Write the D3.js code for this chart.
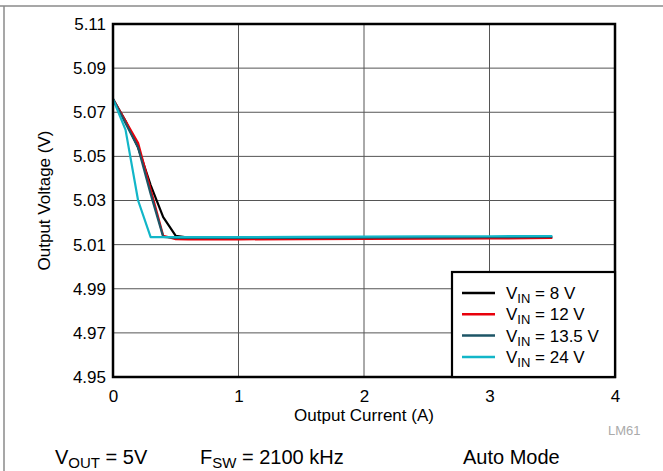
<!DOCTYPE html>
<html><head><meta charset="utf-8">
<script src="https://cdn.jsdelivr.net/npm/d3@7"></script>
<style>body{margin:0;background:#fff}svg{display:block;font-family:"Liberation Sans",Arial,sans-serif}</style>
</head><body><svg id="c" width="663" height="471"></svg>
<script>
const current = [0, 0.1, 0.2, 0.3, 0.4, 0.5, 0.6, 0.8, 1.0, 1.5, 2.0, 2.5, 3.0, 3.5];
const vin8   = [5.076, 5.066, 5.054, 5.037, 5.0225, 5.014, 5.0132, 5.0128, 5.0128, 5.0127, 5.013, 5.013, 5.0132, 5.0133];
const vin12  = [5.076, 5.066, 5.056, 5.035, 5.014, 5.0125, 5.0124, 5.0124, 5.0124, 5.0125, 5.0126, 5.0127, 5.0128, 5.013];
const vin135 = [5.076, 5.065, 5.054, 5.033, 5.0135, 5.013, 5.013, 5.013, 5.013, 5.013, 5.0132, 5.0133, 5.0134, 5.0135];
const vin24  = [5.076, 5.062, 5.030, 5.0134, 5.0134, 5.0134, 5.0134, 5.0134, 5.0134, 5.0135, 5.0136, 5.0137, 5.0138, 5.0139];
const seriesNames = ["8 V", "12 V", "13.5 V", "24 V"];
const seriesColors = ["#000000", "#e8000b", "#1d5566", "#12b6c8"];
const xTicks = [0, 1, 2, 3, 4];
const yTicks = [4.95, 4.97, 4.99, 5.01, 5.03, 5.05, 5.07, 5.09, 5.11];

const svg = d3.select("#c");
const L = 113, R = 615, T = 24, B = 377;
const x = d3.scaleLinear().domain([0, 4]).range([L, R]);
const y = d3.scaleLinear().domain([4.95, 5.11]).range([B, T]);

// frame lines
svg.append("line").attr("x1", 0).attr("x2", 663).attr("y1", 6).attr("y2", 6).attr("stroke", "#8a8a8a").attr("stroke-width", 1.5);
svg.append("line").attr("x1", 4).attr("x2", 4).attr("y1", 6).attr("y2", 471).attr("stroke", "#8a8a8a").attr("stroke-width", 1.5);

// grid
svg.append("g").selectAll("line").data(xTicks.slice(1, -1)).join("line")
  .attr("x1", d => x(d)).attr("x2", d => x(d)).attr("y1", T).attr("y2", B)
  .attr("stroke", "#555").attr("stroke-width", 1);
svg.append("g").selectAll("line").data(yTicks.slice(1, -1)).join("line")
  .attr("x1", L).attr("x2", R).attr("y1", d => y(d)).attr("y2", d => y(d))
  .attr("stroke", "#555").attr("stroke-width", 1);

// axes labels via d3 axes (no lines)
const xAxis = svg.append("g").attr("transform", `translate(0,${B})`)
  .call(d3.axisBottom(x).tickValues(xTicks).tickSize(0).tickPadding(13).tickFormat(d3.format("d")));
xAxis.select(".domain").remove();
xAxis.selectAll("text").attr("font-size", 17).attr("font-family", "Liberation Sans, Arial, sans-serif").attr("fill", "#000");
const yAxis = svg.append("g").attr("transform", `translate(${L},0)`)
  .call(d3.axisLeft(y).tickValues(yTicks).tickSize(0).tickPadding(7).tickFormat(d3.format(".2f")));
yAxis.select(".domain").remove();
yAxis.selectAll("text").attr("font-size", 17).attr("font-family", "Liberation Sans, Arial, sans-serif").attr("fill", "#000");

svg.append("text").attr("x", x(2)).attr("y", 421).attr("text-anchor", "middle").attr("font-size", 17).text("Output Current (A)");
svg.append("text").attr("transform", `translate(50,${(T + B) / 2}) rotate(-90)`).attr("text-anchor", "middle").attr("font-size", 17).text("Output Voltage (V)");
svg.append("text").attr("x", 608).attr("y", 435).attr("font-size", 13).attr("fill", "#aaa").text("LM61");

// lines
const data = [vin8, vin12, vin135, vin24];
const line = d3.line().x((d, i) => x(current[i])).y(d => y(d));
svg.append("g").selectAll("path").data(data).join("path")
  .attr("d", d => line(d)).attr("fill", "none")
  .attr("stroke", (d, i) => seriesColors[i]).attr("stroke-width", 2.2).attr("stroke-linejoin", "round");

// plot border
svg.append("rect").attr("x", L).attr("y", T).attr("width", R - L).attr("height", B - T)
  .attr("fill", "none").attr("stroke", "#000").attr("stroke-width", 2.5);

// legend
const lg = svg.append("g");
lg.append("rect").attr("x", 452).attr("y", 272).attr("width", R - 452).attr("height", B - 272)
  .attr("fill", "#fff").attr("stroke", "#000").attr("stroke-width", 2.2);
const rows = lg.selectAll("g").data(seriesNames).join("g")
  .attr("transform", (d, i) => `translate(0,${293 + i * 21.3})`);
rows.append("line").attr("x1", 462).attr("x2", 495).attr("y1", 0).attr("y2", 0)
  .attr("stroke", (d, i) => seriesColors[i]).attr("stroke-width", 2.5);
const lt = rows.append("text").attr("x", 506).attr("y", 6).attr("font-size", 17);
lt.append("tspan").text("V");
lt.append("tspan").attr("dy", 4).attr("font-size", 13).text("IN");
lt.append("tspan").attr("dy", -4).text(d => " = " + d);

// bottom notes
function sub(xp, main, s, rest) {
  const t = svg.append("text").attr("x", xp).attr("y", 464).attr("font-size", 20);
  t.append("tspan").text(main);
  if (s) t.append("tspan").attr("dy", 4).attr("font-size", 15).text(s);
  t.append("tspan").attr("dy", s ? -4 : 0).text(rest);
}
sub(55, "V", "OUT", " = 5V");
sub(200, "F", "SW", " = 2100 kHz");
sub(463, "Auto Mode", null, "");
</script></body></html>
